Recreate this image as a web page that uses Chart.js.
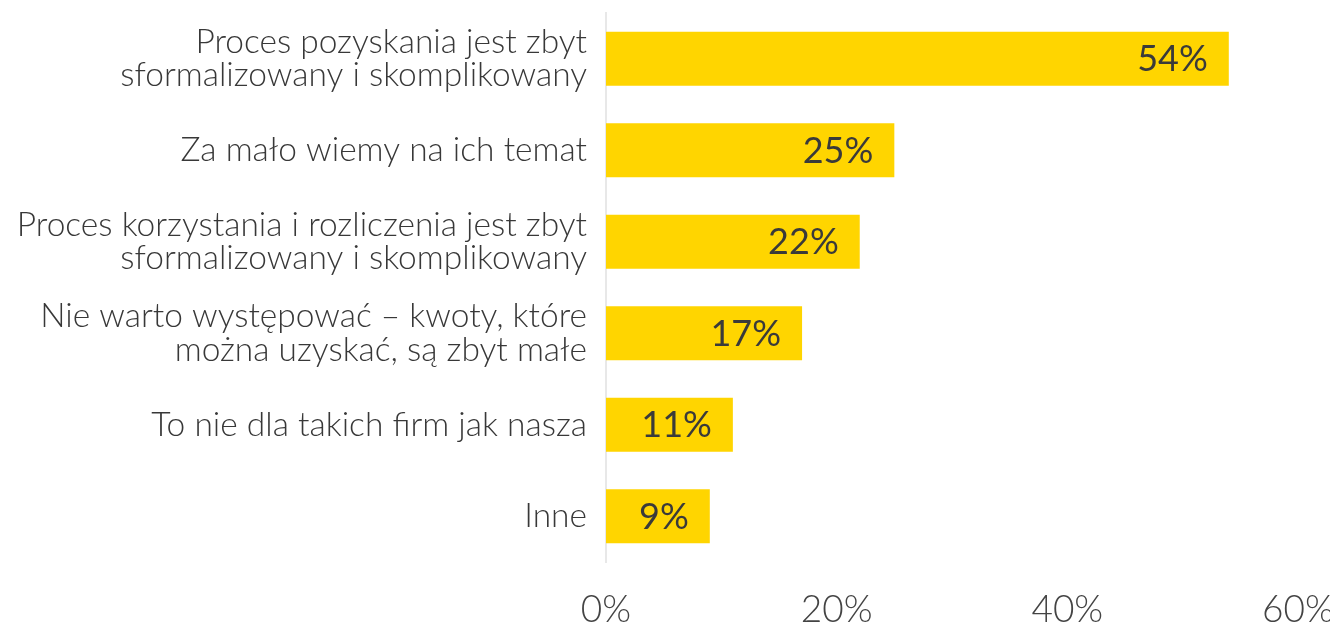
<!DOCTYPE html>
<html><head><meta charset="utf-8">
<style>html,body{margin:0;padding:0;background:#fff}#wrap{width:1330px;height:628px}</style>
<script src="https://cdn.jsdelivr.net/npm/chart.js@4"></script>
</head><body><div id="wrap"><canvas id="c" width="1330" height="628"></canvas></div>
<script>
const categories = [
  ["Proces pozyskania jest zbyt", "sformalizowany i skomplikowany"],
  "Za mało wiemy na ich temat",
  ["Proces korzystania i rozliczenia jest zbyt", "sformalizowany i skomplikowany"],
  ["Nie warto występować – kwoty, które", "można uzyskać, są zbyt małe"],
  "To nie dla takich firm jak nasza",
  "Inne"
];
const values = [54, 25, 22, 17, 11, 9];
const xTicks = [0, 20, 40, 60];

const labelPlugin = {
  id: 'barLabels',
  afterDatasetsDraw(chart) {
    const ctx = chart.ctx;
    const meta = chart.getDatasetMeta(0);
    ctx.save();
    ctx.font = '400 36px Lato, "Open Sans", sans-serif';
    ctx.fillStyle = '#3a3a3a';
    ctx.textAlign = 'right';
    ctx.textBaseline = 'middle';
    meta.data.forEach((bar, i) => {
      ctx.fillText(values[i] + '%', bar.x - 21, bar.y + 1);
    });
    ctx.restore();
  }
};

new Chart(document.getElementById('c'), {
  type: 'bar',
  data: {
    labels: categories,
    datasets: [{
      data: values,
      backgroundColor: '#FFD500',
      borderWidth: 0,
      barPercentage: 0.59,
      categoryPercentage: 1
    }]
  },
  options: {
    indexAxis: 'y',
    responsive: false,
    animation: false,
    layout: { padding: { top: 13, right: 32, left: 0, bottom: 0 } },
    plugins: { legend: { display: false }, tooltip: { enabled: false } },
    scales: {
      x: {
        min: 0, max: 60,
        afterBuildTicks(scale) { scale.ticks = xTicks.map(v => ({ value: v })); },
        grid: { display: false, drawTicks: false },
        border: { display: false },
        ticks: {
          padding: 26,
          color: '#444444',
          font: { family: 'Lato, "Open Sans", sans-serif', size: 37, weight: '300' },
          callback: v => v + '%'
        },
        afterFit(scale) { scale.height = 66; scale.paddingLeft = 0; scale.paddingRight = 0; }
      },
      y: {
        grid: { display: false, drawTicks: false },
        border: { display: true, color: '#e8e8e8', width: 2 },
        ticks: {
          padding: 19,
          color: '#383838',
          font: { family: 'Lato, "Open Sans", sans-serif', size: 33.5, weight: '300', lineHeight: 1.0 }
        },
        afterFit(scale) { scale.width = 606; scale.paddingTop = 0; scale.paddingBottom = 0; }
      }
    }
  },
  plugins: [labelPlugin]
});
</script></body></html>
